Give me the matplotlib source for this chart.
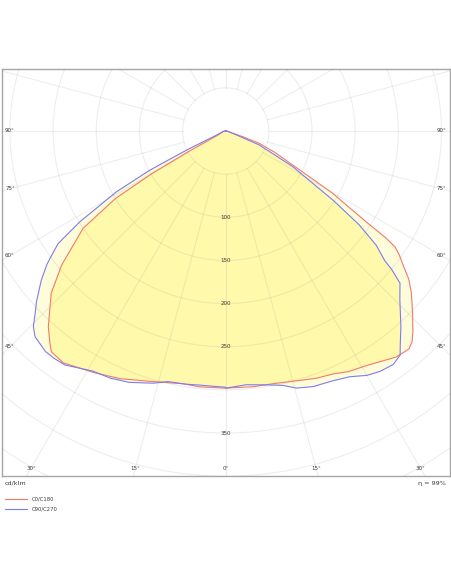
import numpy as np
import matplotlib.pyplot as plt
from matplotlib.patches import Polygon, Circle

# luminous intensity distribution (cd/klm), gamma in degrees, 0 = straight down
c0_gamma = [0, 6, 11, 16, 20, 24, 27, 31, 34, 37, 40, 41.5, 43, 46, 49, 51, 53, 54.5,
            55.6, 56.3, 57.1, 59.8, 63.1, 66.5, 69.9, 71.5, 72.5, 85, 90, 180]
c0_cd = [298, 298, 298, 301, 305, 308, 313, 317, 322, 328, 330, 326, 318, 301, 285, 273, 257, 247,
         238, 222, 194, 143, 87, 62, 41, 21, 9, 2, 1, 0]

c180_gamma = [0, 5.7, 9.5, 16.8, 23.1, 28.7, 35, 38.3, 39.5, 42.2, 47.1, 50, 50.7, 52.3,
              55.7, 58.5, 60, 61, 62, 75, 90, 180]
c180_cd = [298, 298, 297, 303, 312, 319, 328, 326, 320, 306, 276, 251, 246, 229,
           200, 150, 100, 52, 12, 3, 1, 0]

c90_gamma = [0, 4.7, 9.2, 12.6, 15.4, 18.9, 23.3, 26.8, 30, 32.7, 35.7, 37.9, 39.2, 41.9,
             45.9, 48.9, 50.2, 50.8, 52.8, 54.9, 57.2, 62, 67.4, 71, 85, 90, 180]
c90_cd = [298, 295, 298, 302, 309, 313, 315, 319, 327, 331, 333, 329, 320, 304,
          281, 268, 250, 238, 219, 189, 148, 88, 42, 10, 2, 1, 0]

c270_gamma = [0, 6, 9, 13, 16, 21, 25, 29, 34.5, 37, 39.3, 42.8, 44.5, 46.5, 48, 51, 53.2,
              54, 56.1, 58.1, 60.9, 62.7, 64, 66, 80, 90, 180]
c270_cd = [297, 296, 297, 298, 304, 312, 316, 318, 329, 330, 330, 325, 318, 304, 295, 275, 259,
           252, 234, 199, 145, 99, 50, 11, 3, 1, 0]

ring_labels = [100, 150, 200, 250, 350]
side_angles = [90, 75, 60, 45]
bottom_angles = [30, 15, 0]
efficiency = 99

red = '#f27a6c'
blue = '#7c7cf2'
grid_col = (0.45, 0.45, 0.45, 0.12)
txt = '#3a3a3a'


def half_xy(gamma, cd, side):
    g = np.radians(gamma)
    cd = np.asarray(cd, dtype=float)
    return np.column_stack([side * cd * np.sin(g), -cd * np.cos(g)])


red_xy = np.vstack([half_xy(c0_gamma, c0_cd, 1)[::-1], half_xy(c180_gamma, c180_cd, -1)])
blue_xy = np.vstack([half_xy(c90_gamma, c90_cd, 1)[::-1], half_xy(c270_gamma, c270_cd, -1)])

W, H = 452, 584
s = 0.863                  # pixels per cd/klm
cx, cy = 225.7, 131        # pole in pixels
fl, fr, ft, fb = 2, 450, 69, 476   # frame in pixels

fig = plt.figure(figsize=(W / 100, H / 100), dpi=100)
ax = fig.add_axes([fl / W, (H - fb) / H, (fr - fl) / W, (fb - ft) / H])
x0, x1 = (fl - cx) / s, (fr - cx) / s
y0, y1 = -(fb - cy) / s, (cy - ft) / s
ax.set_xlim(x0, x1)
ax.set_ylim(y0, y1)
ax.set_xticks([])
ax.set_yticks([])
for sp in ax.spines.values():
    sp.set_color('#a6a6a6')
    sp.set_linewidth(1.0)

# fills: pale for the union, stronger yellow where both overlap
ax.add_patch(Polygon(red_xy, closed=True, facecolor='#fffcda', edgecolor='none', zorder=1))
ax.add_patch(Polygon(blue_xy, closed=True, facecolor='#fffcda', edgecolor='none', zorder=1))
clip = Polygon(blue_xy, closed=True, transform=ax.transData)
inner = Polygon(red_xy, closed=True, facecolor='#fff9ac', edgecolor='none', zorder=2)
ax.add_patch(inner)
inner.set_clip_path(clip)

# polar grid
for r in range(50, 601, 50):
    ax.add_patch(Circle((0, 0), r, fill=False, edgecolor=grid_col, linewidth=0.8, zorder=3))
for a in range(0, 360, 15):
    t = np.radians(a)
    ax.plot([50 * np.sin(t), 800 * np.sin(t)], [-50 * np.cos(t), -800 * np.cos(t)],
            color=grid_col, linewidth=0.8, zorder=3)

ax.plot(red_xy[:, 0], red_xy[:, 1], color=red, linewidth=0.8, zorder=4, solid_joinstyle='round')
ax.plot(blue_xy[:, 0], blue_xy[:, 1], color=blue, linewidth=0.8, zorder=4, solid_joinstyle='round')

for r in ring_labels:
    ax.text(0, -r, str(r), ha='center', va='center', fontsize=4, color=txt, zorder=5)

xs = (cx - fl - 8) / s
for a in side_angles:
    yy = -xs / np.tan(np.radians(a)) if a != 90 else 0
    ax.text(-xs, yy, f'{a}°', ha='center', va='center', fontsize=4, color=txt, zorder=5)
    ax.text(xs, yy, f'{a}°', ha='center', va='center', fontsize=4, color=txt, zorder=5)
yb = (fb - cy - 8) / s
for a in bottom_angles:
    xx = yb * np.tan(np.radians(a))
    ax.text(-xx, -yb, f'{a}°', ha='center', va='center', fontsize=4, color=txt, zorder=5)
    if a:
        ax.text(xx, -yb, f'{a}°', ha='center', va='center', fontsize=4, color=txt, zorder=5)

# footer
fig.text(5 / W, 1 - 483 / H, 'cd/klm', ha='left', va='center', fontsize=4.6, color=txt)
fig.text(446 / W, 1 - 483 / H, f'η = {efficiency}%', ha='right', va='center', fontsize=4.6, color=txt)
fig.add_artist(plt.Line2D([5 / W, 27 / W], [1 - 499 / H] * 2, color=red, linewidth=0.8))
fig.add_artist(plt.Line2D([5 / W, 27 / W], [1 - 509 / H] * 2, color=blue, linewidth=0.8))
fig.text(32 / W, 1 - 499 / H, 'C0/C180', ha='left', va='center', fontsize=3.8, color=txt)
fig.text(32 / W, 1 - 509 / H, 'C90/C270', ha='left', va='center', fontsize=3.8, color=txt)

fig.savefig('out.png', dpi=100, facecolor='white')
